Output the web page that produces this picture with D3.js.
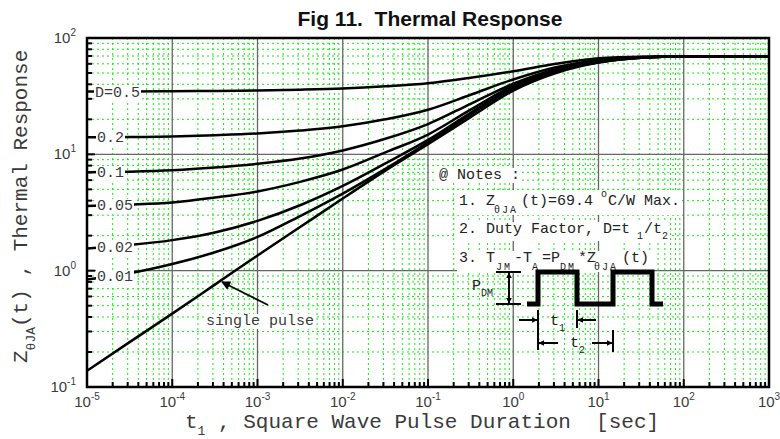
<!DOCTYPE html>
<html><head><meta charset="utf-8">
<script src="https://cdn.jsdelivr.net/npm/d3@7"></script>
<style>
body{margin:0;background:#fff;}
svg{display:block;}
</style></head>
<body>
<svg id="chart" width="780" height="439"></svg>
<script>
// ---------- data ----------
const tValues = [1e-5, 3.16e-5, 1e-4, 3.16e-4, 1e-3, 3.16e-3, 1e-2, 3.16e-2, 0.1, 0.316, 1, 3.16, 10, 31.6, 100, 1000];
const zD05    = [34.6, 34.7, 34.85, 35.1, 35.4, 35.95, 36.8, 38.4, 40.8, 45.5, 51.8, 60.0, 67.0, 69.1, 69.4, 69.4];
const zD02    = [14.0, 14.08, 14.25, 14.6, 15.1, 16.0, 17.4, 20.0, 24.2, 32.5, 44.0, 56.0, 64.8, 68.8, 69.4, 69.4];
const zD01    = [7.0, 7.1, 7.3, 7.7, 8.3, 9.2, 10.8, 13.6, 18.2, 27.2, 40.5, 54.0, 63.5, 68.4, 69.4, 69.4];
const zD005   = [3.6, 3.7, 3.86, 4.25, 4.8, 5.8, 7.4, 10.4, 14.8, 24.2, 39.0, 53.0, 62.8, 68.1, 69.4, 69.4];
const zD002   = [1.55, 1.66, 1.83, 2.13, 2.68, 3.65, 5.35, 8.35, 13.3, 22.8, 37.8, 52.0, 62.0, 67.9, 69.4, 69.4];
const zD001   = [0.84, 0.95, 1.14, 1.44, 1.95, 2.95, 4.6, 7.5, 12.7, 22.0, 36.8, 51.5, 61.8, 67.8, 69.4, 69.4];
const zSingle = [0.138, 0.243, 0.427, 0.759, 1.35, 2.37, 4.17, 7.24, 12.2, 20.9, 35.3, 50.0, 61.5, 67.5, 69.4, 69.4];
const curveLabels = ["D=0.5", "0.2", "0.1", "0.05", "0.02", "0.01"];
const xTickExps = ["-5", "-4", "-3", "-2", "-1", "0", "1", "2", "3"];
const yTickExps = ["-1", "0", "1", "2"];
const titleText = "Fig 11.  Thermal Response";

// ---------- layout ----------
const svg = d3.select("#chart");
const L = 87, R = 769, T = 38, B = 387;
const x = d3.scaleLog().domain([1e-5, 1e3]).range([L, R]);
const y = d3.scaleLog().domain([0.1, 100]).range([B, T]);
const mono = "'Liberation Mono','Courier New',monospace";
const sans = "'Liberation Sans',Arial,sans-serif";
const txtCol = "#3a3a3a";

// title
svg.append("text").attr("x", 430).attr("y", 26).attr("text-anchor", "middle")
  .attr("font-family", sans).attr("font-weight", "bold").attr("font-size", 21)
  .attr("fill", "#111").attr("xml:space", "preserve").style("white-space", "pre").text(titleText);

// ---------- grid ----------
const minorX = [], minorY = [];
for (let e = -5; e < 3; e++) for (let k = 2; k <= 9; k++) minorX.push(k * Math.pow(10, e));
for (let e = -1; e < 2; e++) for (let k = 2; k <= 9; k++) minorY.push(k * Math.pow(10, e));
const majorX = xTickExps.map(e => Math.pow(10, +e));
const majorY = yTickExps.map(e => Math.pow(10, +e));

const grid = svg.append("g");
grid.selectAll(".gx").data(minorX).join("line")
  .attr("x1", d => x(d)).attr("x2", d => x(d)).attr("y1", T).attr("y2", B)
  .attr("stroke", "#11ee11").attr("stroke-width", 1).attr("stroke-dasharray", "2,3");
grid.selectAll(".gy").data(minorY).join("line")
  .attr("y1", d => y(d)).attr("y2", d => y(d)).attr("x1", L).attr("x2", R)
  .attr("stroke", "#11ee11").attr("stroke-width", 1).attr("stroke-dasharray", "2,3");
grid.selectAll(".mx").data(majorX).join("line")
  .attr("x1", d => x(d)).attr("x2", d => x(d)).attr("y1", T).attr("y2", B)
  .attr("stroke", "#666").attr("stroke-width", 1.3);
grid.selectAll(".my").data(majorY).join("line")
  .attr("y1", d => y(d)).attr("y2", d => y(d)).attr("x1", L).attr("x2", R)
  .attr("stroke", "#666").attr("stroke-width", 1.3);

// ---------- ticks ----------
const ticks = svg.append("g").attr("stroke", "#000").attr("stroke-width", 2);
ticks.selectAll(".tx").data(minorX).join("line")
  .attr("x1", d => x(d)).attr("x2", d => x(d)).attr("y1", B).attr("y2", B - 5);
ticks.selectAll(".txM").data(majorX).join("line")
  .attr("x1", d => x(d)).attr("x2", d => x(d)).attr("y1", B).attr("y2", B - 8);
ticks.selectAll(".ty").data(minorY).join("line")
  .attr("y1", d => y(d)).attr("y2", d => y(d)).attr("x1", L).attr("x2", L + 5);
ticks.selectAll(".tyM").data(majorY).join("line")
  .attr("y1", d => y(d)).attr("y2", d => y(d)).attr("x1", L).attr("x2", L + 8);

// tick labels
const xl = svg.append("g").selectAll("text").data(xTickExps).join("text")
  .attr("x", d => x(Math.pow(10, +d))).attr("y", 407).attr("text-anchor", "middle")
  .attr("font-family", sans).attr("font-size", 15).attr("fill", txtCol);
xl.append("tspan").text("10");
xl.append("tspan").attr("dy", -7).attr("font-size", 10).text(d => d);

const yl = svg.append("g").selectAll("text").data(yTickExps).join("text")
  .attr("x", 76).attr("y", d => y(Math.pow(10, +d)) + 5).attr("text-anchor", "end")
  .attr("font-family", sans).attr("font-size", 15).attr("fill", txtCol);
yl.append("tspan").text("10");
yl.append("tspan").attr("dy", -7).attr("font-size", 10).text(d => d);

// ---------- curves ----------
const series = [zD05, zD02, zD01, zD005, zD002, zD001, zSingle];
const line = d3.line().x(d => x(d[0])).y(d => y(d[1])).curve(d3.curveMonotoneX);
svg.append("g").selectAll("path").data(series).join("path")
  .attr("d", s => line(s.map((v, i) => [tValues[i], v])))
  .attr("fill", "none").attr("stroke", "#000").attr("stroke-width", 2.5);

// frame
svg.append("rect").attr("x", L).attr("y", T).attr("width", R - L).attr("height", B - T)
  .attr("fill", "none").attr("stroke", "#000").attr("stroke-width", 2.5);

// helper: white bg behind text
function bg(textSel, pad) {
  textSel.each(function () {
    const b = this.getBBox();
    d3.select(this.parentNode).insert("rect", () => this)
      .attr("x", b.x - pad).attr("y", b.y + 1).attr("width", b.width + 2 * pad).attr("height", b.height - 2)
      .attr("fill", "#fff");
  });
}
function interpLog(s, t) {
  const lt = Math.log10(t);
  for (let i = 0; i < tValues.length - 1; i++) {
    const a = Math.log10(tValues[i]), b = Math.log10(tValues[i + 1]);
    if (lt >= a && lt <= b) {
      const f = (lt - a) / (b - a);
      return Math.pow(10, Math.log10(s[i]) + f * (Math.log10(s[i + 1]) - Math.log10(s[i])));
    }
  }
  return s[0];
}

// curve labels
const lblG = svg.append("g");
const lblT = Math.pow(10, -4.72);
curveLabels.forEach((lab, i) => {
  const g = lblG.append("g");
  const t = g.append("text").attr("x", i === 0 ? 95 : 97)
    .attr("y", y(interpLog(series[i], lblT)) + 5)
    .attr("font-family", mono).attr("font-size", 15).attr("fill", txtCol).text(lab);
  bg(t, 1);
});

// single pulse annotation
const spG = svg.append("g");
const spT = spG.append("text").attr("x", 206).attr("y", 325)
  .attr("font-family", mono).attr("font-size", 15).attr("fill", txtCol).text("single pulse");
bg(spT, 1);

const defs = svg.append("defs");
defs.append("marker").attr("id", "ah").attr("viewBox", "0 0 10 10").attr("refX", 9).attr("refY", 5)
  .attr("markerWidth", 6).attr("markerHeight", 6).attr("markerUnits", "userSpaceOnUse")
  .attr("orient", "auto-start-reverse")
  .append("path").attr("d", "M0,0 L10,5 L0,10 z").attr("fill", "#000");
defs.append("marker").attr("id", "ahBig").attr("viewBox", "0 0 10 10").attr("refX", 9).attr("refY", 5)
  .attr("markerWidth", 13).attr("markerHeight", 9).attr("markerUnits", "userSpaceOnUse")
  .attr("orient", "auto-start-reverse")
  .append("path").attr("d", "M0,0 L10,5 L0,10 z").attr("fill", "#000");

spG.append("line").attr("x1", 268).attr("y1", 305).attr("x2", 222).attr("y2", 282)
  .attr("stroke", "#000").attr("stroke-width", 1.8).attr("marker-end", "url(#ahBig)");

// ---------- notes ----------
const notes = svg.append("g").attr("font-family", mono).attr("fill", "#222");
function noteLine(parts, baseY) {
  const g = notes.append("g");
  const t = g.append("text").attr("y", baseY).attr("font-size", 15).attr("xml:space", "preserve").style("white-space", "pre");
  parts.forEach(p => {
    const ts = t.append("tspan").attr("x", p[0]).attr("y", baseY + (p[2] || 0)).text(p[1]);
    if (p[3]) ts.attr("font-size", p[3]);
    if (p[4]) ts.attr("letter-spacing", p[4]);
  });
  bg(t, 2);
}
noteLine([[439, "@ Notes :"]], 179);
noteLine([[459, "1. Z"], [494, "θJA", 8, 10, 2], [521, "(t)=69.4"], [601, "o", -8, 10], [608, "C/W Max."]], 205);
noteLine([[459, "2. Duty Factor, D=t"], [637, "1", 6, 10], [644, "/t"], [662, "2", 6, 10]], 233);
noteLine([[459, "3. T"], [496, "JM", 8, 10, 2], [514, "-T"], [532, "A", 8, 10], [542, "=P"], [560, "DM", 8, 10, 2], [578, "*Z"], [594, "θJA", 8, 10, 2], [622, "(t)"]], 262);

// P_DM
const pd = notes.append("text").attr("x", 472).attr("y", 290).attr("font-size", 15);
pd.append("tspan").text("P");
pd.append("tspan").attr("dy", 6).attr("font-size", 10).text("DM");

// waveform (pixel layout relative to the plot)
const wf = svg.append("g").attr("stroke", "#000").attr("fill", "none");
const hi = 272, lo = 304;
wf.append("path").attr("d", d3.line()([[527, lo], [538, lo], [538, hi], [577, hi], [577, lo], [613, lo], [613, hi], [652, hi], [652, lo], [663, lo]]))
  .attr("stroke-width", 5).attr("stroke-linejoin", "miter").attr("stroke-linecap", "butt");
// P_DM dimension
wf.append("line").attr("x1", 496).attr("x2", 521).attr("y1", hi).attr("y2", hi).attr("stroke-width", 2);
wf.append("line").attr("x1", 496).attr("x2", 521).attr("y1", lo).attr("y2", lo).attr("stroke-width", 2);
wf.append("line").attr("x1", 509).attr("x2", 509).attr("y1", hi + 1).attr("y2", lo - 1).attr("stroke-width", 2)
  .attr("marker-start", "url(#ah)").attr("marker-end", "url(#ah)");
// t1 dimension
wf.append("line").attr("x1", 538).attr("x2", 538).attr("y1", 310).attr("y2", 350).attr("stroke-width", 2);
wf.append("line").attr("x1", 577).attr("x2", 577).attr("y1", 310).attr("y2", 328).attr("stroke-width", 2);
wf.append("line").attr("x1", 519).attr("x2", 537).attr("y1", 320).attr("y2", 320).attr("stroke-width", 2).attr("marker-end", "url(#ah)");
wf.append("line").attr("x1", 596).attr("x2", 578).attr("y1", 320).attr("y2", 320).attr("stroke-width", 2).attr("marker-end", "url(#ah)");
// t2 dimension
wf.append("line").attr("x1", 613).attr("x2", 613).attr("y1", 330).attr("y2", 352).attr("stroke-width", 2);
wf.append("line").attr("x1", 558).attr("x2", 539).attr("y1", 343).attr("y2", 343).attr("stroke-width", 2).attr("marker-end", "url(#ah)");
wf.append("line").attr("x1", 592).attr("x2", 612).attr("y1", 343).attr("y2", 343).attr("stroke-width", 2).attr("marker-end", "url(#ah)");

const t1 = notes.append("text").attr("x", 550).attr("y", 325).attr("font-size", 15);
t1.append("tspan").text("t");
t1.append("tspan").attr("dy", 6).attr("font-size", 10).text("1");
const t2 = notes.append("text").attr("x", 570).attr("y", 347).attr("font-size", 15);
t2.append("tspan").text("t");
t2.append("tspan").attr("dy", 6).attr("font-size", 10).text("2");

// ---------- axis titles ----------
const xt = svg.append("text").attr("x", 185).attr("y", 428).attr("font-family", mono)
  .attr("font-size", 21).attr("fill", txtCol).attr("xml:space", "preserve").style("white-space", "pre");
xt.append("tspan").text("t");
xt.append("tspan").attr("dy", 7).attr("font-size", 13).text("1");
xt.append("tspan").attr("dy", -7).text(" , Square Wave Pulse Duration  [sec]");

const yt = svg.append("text").attr("transform", "translate(27,363) rotate(-90)").attr("font-family", mono)
  .attr("font-size", 21).attr("fill", txtCol).attr("xml:space", "preserve").style("white-space", "pre");
yt.append("tspan").text("Z");
yt.append("tspan").attr("dy", 8).attr("font-size", 13).text("θJA");
yt.append("tspan").attr("dy", -8).text("(t) , Thermal Response");
</script>
</body></html>
